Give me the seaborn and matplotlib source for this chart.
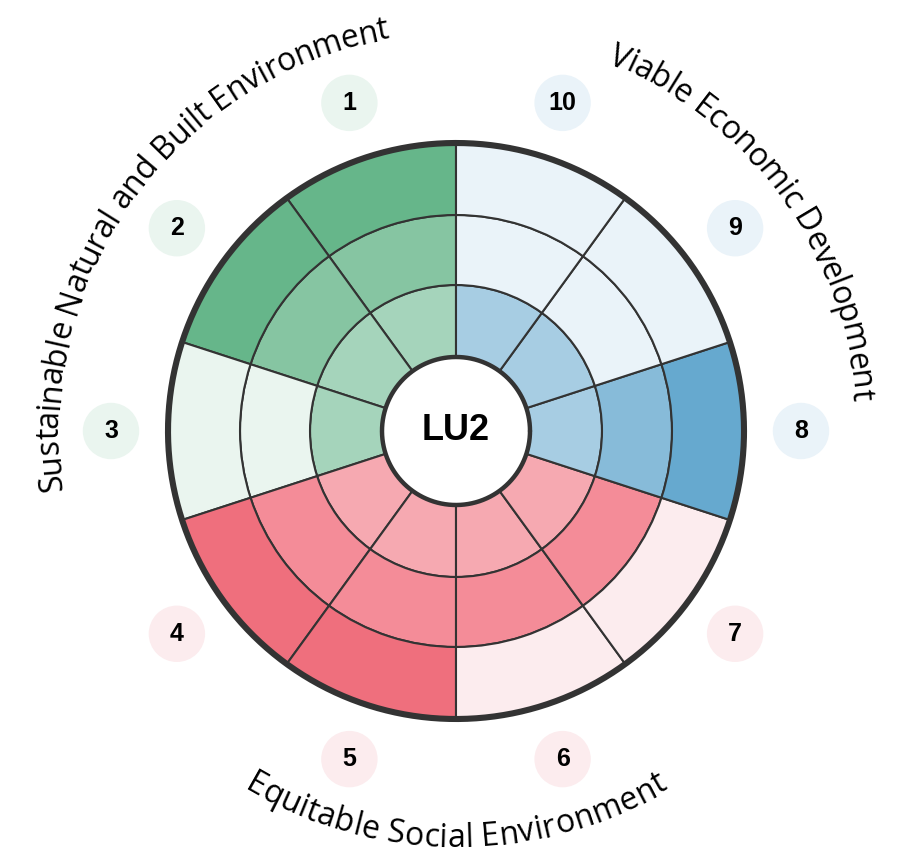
import matplotlib

matplotlib.use("Agg")
import matplotlib.pyplot as plt
import numpy as np
import seaborn as sns
from matplotlib import font_manager
from matplotlib.ft2font import FT2Font

# data
sectors = ["1", "2", "3", "4", "5", "6", "7", "8", "9", "10"]
sector_group = [0, 0, 0, 1, 1, 1, 1, 2, 2, 2]
levels = [3, 3, 1, 3, 3, 2, 2, 3, 1, 1]
groups = [
    "Sustainable Natural and Built Environment",
    "Equitable Social Environment",
    "Viable Economic Development",
]
center_label = "LU2"

# style
filled_shades = [
    ["#a5d4bb", "#86c5a2", "#66b68a"],
    ["#f6a9b1", "#f48c98", "#ef6f7d"],
    ["#a7cde3", "#87bbd9", "#66a9cf"],
]
empty_shade = ["#eaf5ef", "#fcecee", "#eaf3f9"]
LINE = "#333333"
RING_EDGES = [74, 146, 216, 288]
R_NUM = 345
R_TOP_BASE = 398
R_BOTTOM_BASE = 416
R_MAX = 429
TEXT_FONT = "Open Sans"
TEXT_SIZE = 23
DPI = 100


def char_advances(text, family, size):
    path = font_manager.findfont(font_manager.FontProperties(family=family))
    font = FT2Font(path)
    font.set_size(size, DPI)
    return [font.load_char(ord(ch)).linearHoriAdvance / 65536 for ch in text]


def curved_text(ax, text, center_deg, bottom):
    adv = char_advances(text, TEXT_FONT, TEXT_SIZE)
    r_base = R_BOTTOM_BASE if bottom else R_TOP_BASE
    r_mid = R_BOTTOM_BASE - 11 if bottom else R_TOP_BASE + 11
    span = np.rad2deg(sum(adv) / r_mid)
    pos = 0.0
    for ch, a in zip(text, adv):
        off = np.rad2deg((pos + a / 2) / r_mid)
        if bottom:
            theta = center_deg - span / 2 + off
            rot = theta + 90
        else:
            theta = center_deg + span / 2 - off
            rot = theta - 90
        ax.text(np.deg2rad(theta), r_base, ch, rotation=rot, rotation_mode="anchor",
                ha="center", va="baseline", fontsize=TEXT_SIZE, family=TEXT_FONT,
                color="black")
        pos += a


sns.set_theme(style="white")
plt.rcParams["font.family"] = ["Liberation Sans", "DejaVu Sans"]

fig = plt.figure(figsize=(9.08, 8.58), dpi=DPI)
ax = fig.add_axes([(456 - R_MAX) / 908, (427 - R_MAX) / 858, 2 * R_MAX / 908, 2 * R_MAX / 858],
                  projection="polar")
ax.set_ylim(0, R_MAX)
ax.set_axis_off()

start = 90 + 36 * np.arange(len(sectors))
thetas = np.deg2rad(start + 18)
width = np.deg2rad(36)

for ring in range(3):
    colors = [
        filled_shades[g][ring] if ring < lv else empty_shade[g]
        for g, lv in zip(sector_group, levels)
    ]
    ax.bar(thetas, RING_EDGES[ring + 1] - RING_EDGES[ring], width=width,
           bottom=RING_EDGES[ring], color=colors, edgecolor=LINE, linewidth=1.5,
           align="center", zorder=2)

circ = np.linspace(0, 2 * np.pi, 600)
ax.plot(circ, np.full_like(circ, RING_EDGES[-1]), color=LINE, lw=4.4, zorder=4)
ax.plot(circ, np.full_like(circ, RING_EDGES[0]), color=LINE, lw=3.2, zorder=4)
ax.text(0, 0, center_label, ha="center", va="center", fontsize=26,
        fontweight="bold", color="black", zorder=5)

# numbered bubbles
ax.scatter(thetas, np.full(len(sectors), R_NUM), s=1650,
           c=[empty_shade[g] for g in sector_group], linewidths=0, zorder=3)
for th, lab in zip(thetas, sectors):
    ax.text(th, R_NUM, lab, ha="center", va="center", fontsize=18,
            fontweight="bold", color="black", zorder=5)

# curved group titles
for gi, name in enumerate(groups):
    idx = [i for i, g in enumerate(sector_group) if g == gi]
    mid = (start[idx[0]] + start[idx[-1]] + 36) / 2
    curved_text(ax, name, mid, np.sin(np.deg2rad(mid)) < 0)

fig.savefig("out.png", dpi=DPI)
